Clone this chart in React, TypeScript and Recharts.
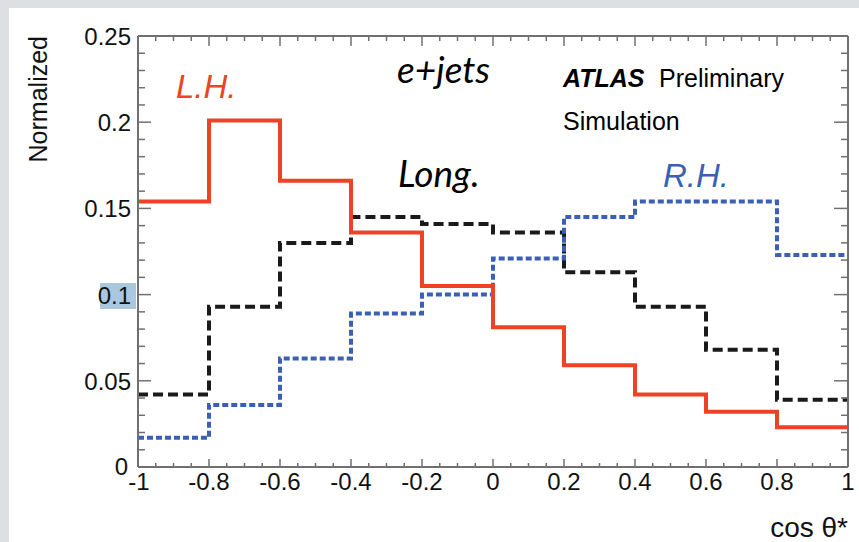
import React from "react";
import { LineChart, Line, XAxis, YAxis } from "recharts";

// ---- data ----
const binEdges = [-1, -0.8, -0.6, -0.4, -0.2, 0, 0.2, 0.4, 0.6, 0.8, 1];
const lhValues = [0.154, 0.201, 0.166, 0.136, 0.105, 0.081, 0.059, 0.042, 0.032, 0.023];
const longValues = [0.042, 0.093, 0.130, 0.145, 0.141, 0.136, 0.113, 0.093, 0.068, 0.039];
const rhValues = [0.017, 0.036, 0.063, 0.089, 0.100, 0.121, 0.145, 0.154, 0.154, 0.123];

const xMajorLabels = ["-1", "-0.8", "-0.6", "-0.4", "-0.2", "0", "0.2", "0.4", "0.6", "0.8", "1"];
const yMajorLabels = ["0", "0.05", "0.1", "0.15", "0.2", "0.25"];

const xTicks = Array.from({ length: 41 }, (_, i) => Math.round((-1 + i * 0.05) * 100) / 100);
const yTicks = Array.from({ length: 26 }, (_, i) => i / 100);

const data = binEdges.map((x, i) => {
  const k = Math.min(i, lhValues.length - 1);
  return { x, lh: lhValues[k], lng: longValues[k], rh: rhValues[k] };
});

const AX = "#707070";
const RED = "#ee4224";
const BLUE = "#3b5fb5";
const BLACK = "#1a1a1a";
const FONT = "'Liberation Sans', Arial, Helvetica, sans-serif";

const isMajorX = (v: number) => Math.abs(v * 5 - Math.round(v * 5)) < 1e-6;
const isMajorY = (v: number) => Math.abs(v * 20 - Math.round(v * 20)) < 1e-6;
const xLabel = (v: number) => xMajorLabels[Math.round((v + 1) * 5)];
const yLabel = (v: number) => yMajorLabels[Math.round(v * 20)];

const BottomTick = (props: any) => {
  const { x, y, payload } = props;
  const v = payload.value;
  const major = isMajorX(v);
  const isFirst = Math.abs(v + 1) < 1e-9;
  return (
    <g>
      <line x1={x} x2={x} y1={y} y2={y - (major ? 8 : 4)} stroke={AX} strokeWidth={1.5} />
      {major && (
        <text x={isFirst ? x + 1 : x} y={y + 23} textAnchor="middle" fontSize={24} fontFamily={FONT} fill="#111">
          {xLabel(v)}
        </text>
      )}
    </g>
  );
};

const TopTick = (props: any) => {
  const { x, y, payload } = props;
  const major = isMajorX(payload.value);
  return <line x1={x} x2={x} y1={y} y2={y + (major ? 10 : 5)} stroke={AX} strokeWidth={1.5} />;
};

const LeftTick = (props: any) => {
  const { x, y, payload } = props;
  const v = payload.value;
  const major = isMajorY(v);
  const isZero = Math.abs(v) < 1e-9;
  const isTenth = Math.abs(v - 0.1) < 1e-9;
  return (
    <g>
      <line x1={x} x2={x + (major ? 13 : 7)} y1={y} y2={y} stroke={AX} strokeWidth={1.5} />
      {isTenth && <rect x={x - 38} y={y - 11.6} width={36} height={26} fill="#a9c7de" />}
      {major && (
        <text
          x={isZero ? x - 10 : x - 7}
          y={isZero ? y + 8 : y + 9}
          textAnchor="end"
          fontSize={24}
          fontFamily={FONT}
          fill="#111"
        >
          {yLabel(v)}
        </text>
      )}
    </g>
  );
};

const RightTick = (props: any) => {
  const { x, y, payload } = props;
  const major = isMajorY(payload.value);
  return <line x1={x} x2={x - (major ? 14 : 7)} y1={y} y2={y} stroke={AX} strokeWidth={1.5} />;
};

export default function App() {
  return (
    <div
      style={{
        position: "absolute",
        left: 0,
        top: 0,
        width: 859,
        height: 542,
        background: "#dedfe2",
        overflow: "hidden",
      }}
    >
      <div style={{ position: "absolute", left: 9, top: 8, width: 850, height: 534, background: "#ffffff" }}>
        <LineChart
          width={850}
          height={534}
          data={data}
          margin={{ top: 27, right: 10, bottom: 74, left: 128 }}
        >
          <XAxis
            dataKey="x"
            type="number"
            domain={[-1, 1]}
            ticks={xTicks}
            interval={0}
            height={1}
            tickSize={0}
            tickMargin={0}
            tickLine={false}
            axisLine={{ stroke: AX, strokeWidth: 2 }}
            tick={<BottomTick />}
            allowDataOverflow
          />
          <XAxis
            xAxisId="top"
            orientation="top"
            dataKey="x"
            type="number"
            domain={[-1, 1]}
            ticks={xTicks}
            interval={0}
            height={1}
            tickSize={0}
            tickMargin={0}
            tickLine={false}
            axisLine={{ stroke: AX, strokeWidth: 2 }}
            tick={<TopTick />}
            allowDataOverflow
          />
          <YAxis
            type="number"
            domain={[0, 0.25]}
            ticks={yTicks}
            interval={0}
            width={1}
            tickSize={0}
            tickMargin={0}
            tickLine={false}
            axisLine={{ stroke: AX, strokeWidth: 2 }}
            tick={<LeftTick />}
            allowDataOverflow
          />
          <YAxis
            yAxisId="right"
            orientation="right"
            type="number"
            domain={[0, 0.25]}
            ticks={yTicks}
            interval={0}
            width={1}
            tickSize={0}
            tickMargin={0}
            tickLine={false}
            axisLine={{ stroke: AX, strokeWidth: 2 }}
            tick={<RightTick />}
            allowDataOverflow
          />
          <Line
            dataKey="lng"
            type="stepAfter"
            stroke={BLACK}
            strokeWidth={4}
            strokeDasharray="10 5"
            dot={false}
            activeDot={false}
            isAnimationActive={false}
          />
          <Line
            dataKey="rh"
            type="stepAfter"
            stroke={BLUE}
            strokeWidth={4}
            strokeDasharray="6 3"
            dot={false}
            activeDot={false}
            isAnimationActive={false}
          />
          <Line
            dataKey="lh"
            type="stepAfter"
            stroke={RED}
            strokeWidth={4}
            dot={false}
            activeDot={false}
            isAnimationActive={false}
          />
        </LineChart>
      </div>
      <svg
        width={859}
        height={542}
        style={{ position: "absolute", left: 0, top: 0, pointerEvents: "none" }}
      >
        <text transform="translate(47,36) rotate(-90)" textAnchor="end" fontSize={25} fontFamily={FONT} fill="#111">
          Normalized
        </text>
        <text x={848} y={537} textAnchor="end" fontSize={28} fontFamily={FONT} fill="#111">
          cos θ*
        </text>
        <text x={176} y={98} fontSize={33} fontStyle="italic" fontFamily={FONT} fill={RED}>
          L.H.
        </text>
        <text x={397} y={83} fontSize={37} fontStyle="italic" fontFamily="Lato, sans-serif" fill="#000">
          e+jets
        </text>
        <text x={398} y={187} fontSize={37} fontStyle="italic" fontFamily="Lato, sans-serif" fill="#000">
          Long.
        </text>
        <text x={663} y={187} fontSize={33} fontStyle="italic" fontFamily={FONT} fill={BLUE}>
          R.H.
        </text>
        <text x={563} y={87} fontSize={25} fontFamily={FONT} fill="#000">
          <tspan fontWeight="bold" fontStyle="italic">ATLAS</tspan>
          <tspan x={659}>Preliminary</tspan>
        </text>
        <text x={563} y={130} fontSize={25} fontFamily={FONT} fill="#000">
          Simulation
        </text>
      </svg>
    </div>
  );
}
